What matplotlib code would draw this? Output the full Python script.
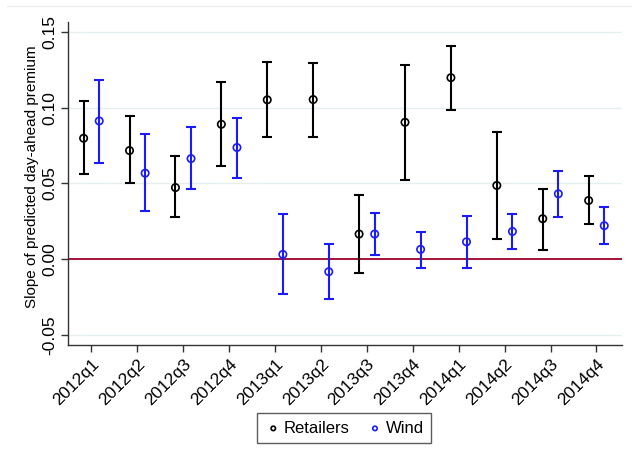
import matplotlib
matplotlib.use("Agg")
import matplotlib.pyplot as plt
import numpy as np

plt.rcParams['font.family'] = ['Liberation Sans', 'DejaVu Sans']

quarters = ["2012q1", "2012q2", "2012q3", "2012q4",
            "2013q1", "2013q2", "2013q3", "2013q4",
            "2014q1", "2014q2", "2014q3", "2014q4"]

# point estimate, upper and lower ends of the confidence interval
retail_est = [0.0798, 0.0717, 0.0473, 0.0890, 0.1051, 0.1053, 0.0167, 0.0903, 0.1197, 0.0487, 0.0268, 0.0388]
retail_hi = [0.1041, 0.0943, 0.0678, 0.1169, 0.1303, 0.1296, 0.0423, 0.1283, 0.1403, 0.0842, 0.0463, 0.0548]
retail_lo = [0.0561, 0.0500, 0.0276, 0.0614, 0.0807, 0.0807, -0.0092, 0.0520, 0.0987, 0.0134, 0.0064, 0.0232]

wind_est = [0.0912, 0.0568, 0.0664, 0.0737, 0.0033, -0.0081, 0.0167, 0.0066, 0.0116, 0.0184, 0.0432, 0.0222]
wind_hi = [0.1184, 0.0824, 0.0873, 0.0934, 0.0301, 0.0101, 0.0303, 0.0180, 0.0289, 0.0298, 0.0581, 0.0347]
wind_lo = [0.0638, 0.0316, 0.0461, 0.0535, -0.0230, -0.0261, 0.0031, -0.0055, -0.0055, 0.0068, 0.0281, 0.0099]

yticks = [-0.05, 0.0, 0.05, 0.10, 0.15]
ytick_labels = ["-0.05", "0.00", "0.05", "0.10", "0.15"]

series = [{"name": "Retailers", "color": "black", "est": retail_est, "hi": retail_hi, "lo": retail_lo, "shift": -0.17},
          {"name": "Wind", "color": "#1a1aff", "est": wind_est, "hi": wind_hi, "lo": wind_lo, "shift": 0.17}]

fig = plt.figure(figsize=(6.32, 4.61), dpi=100)
ax = fig.add_axes([0.1076, 0.2516, 0.8761, 0.7014])

ind = np.arange(1, len(quarters) + 1)
handles = []
for s in series:
  est = np.array(s["est"])
  yerr = [est - np.array(s["lo"]), np.array(s["hi"]) - est]
  ax.errorbar(ind + s["shift"], est, yerr=yerr, fmt="none", ecolor=s["color"],
              elinewidth=1.5, capsize=3.5, capthick=1.5, zorder=3)
  h = ax.scatter(ind + s["shift"], est, s=28, facecolors="none", edgecolors=s["color"],
                 linewidths=1.2, zorder=4, label=s["name"])
  handles.append(h)

ax.axhline(0, color="#a0002a", linewidth=1.3, zorder=2)

ax.set_xlim(0.49, 12.55)
ax.set_ylim(-0.0564, 0.1566)
ax.set_yticks(yticks)
ax.set_yticklabels(ytick_labels, rotation=90, va="center", fontsize=12.5)
ax.set_xticks(ind)
ax.set_xticklabels(quarters, rotation=45, ha="right", rotation_mode="anchor", fontsize=12.5)
ax.tick_params(axis="both", length=5, width=1, color="#333333", pad=3)
ax.grid(axis="y", color="#e6eef0", linewidth=1)
ax.set_axisbelow(True)
for side in ["top", "right"]:
  ax.spines[side].set_visible(False)
for side in ["left", "bottom"]:
  ax.spines[side].set_color("#333333")
  ax.spines[side].set_linewidth(1)
ax.set_ylabel("Slope of predicted day-ahead premium", fontsize=11)
ax.yaxis.set_label_coords(-0.052, 0.52)

leg = fig.legend(handles=handles, labels=[s["name"] for s in series], loc="center",
                 bbox_to_anchor=(0.545, 0.071), ncol=2, fontsize=12, frameon=True,
                 fancybox=False, edgecolor="#333333", handletextpad=0.15, columnspacing=1.0,
                 markerscale=0.6, borderpad=0.45, handlelength=1.0)
leg.get_frame().set_linewidth(1)

fig.add_artist(plt.Line2D([0.011, 1.0], [0.988, 0.988], color="#eeeeee", linewidth=1))

fig.savefig("out.png", dpi=100, facecolor="white")
